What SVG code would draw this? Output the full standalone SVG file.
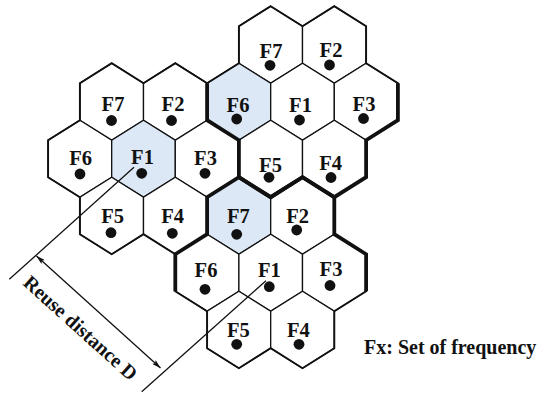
<svg xmlns="http://www.w3.org/2000/svg" width="546" height="395" viewBox="0 0 546 395">
  <style>
    .cell { fill: #ffffff; stroke: #111111; stroke-width: 1.3; stroke-linejoin: miter; }
    .hl { fill: #dce8f6; }
    .lbl { font-family: "Liberation Serif", "Times New Roman", serif; font-weight: bold; font-size: 20.5px; fill: #111111; text-anchor: middle; }
    .dim-lbl { font-family: "Liberation Serif", "Times New Roman", serif; font-weight: bold; font-size: 20px; fill: #111111; text-anchor: middle; }
    .dot { fill: #111111; }
    .outline { fill: none; stroke: #111111; stroke-width: 1.9; stroke-linejoin: miter; }
    .border { fill: none; stroke: #111111; stroke-width: 3.8; stroke-linejoin: miter; }
    .dim { fill: none; stroke: #111111; stroke-width: 1.3; }
    .note { font-family: "Liberation Serif", "Times New Roman", serif; font-weight: bold; font-size: 20px; fill: #111111; }
  </style>
  <defs>
    <!-- pointy-top hexagon centred on the origin -->
    <polygon id="hex" points="0,-38.5 31.8,-18.5 31.8,18.5 0,38.5 -31.8,18.5 -31.8,-18.5"/>
    <marker id="arrow" viewBox="0 0 10 6" refX="10" refY="3" markerWidth="9" markerHeight="5.4" markerUnits="userSpaceOnUse" orient="auto-start-reverse">
      <path d="M0,0 L10,3 L0,6 L2,3 z" fill="#111111"/>
    </marker>
  </defs>

  <!-- cells -->
  <g id="cells">
    <g id="r1-f7"><use href="#hex" x="270.7" y="44.7" class="cell"/><text class="lbl" x="271" y="57.5">F7</text><circle class="dot" cx="270" cy="65.3" r="5.4"/></g>
    <g id="r1-f2"><use href="#hex" x="334.3" y="44.7" class="cell"/><text class="lbl" x="331" y="57">F2</text><circle class="dot" cx="329.5" cy="65" r="5.4"/></g>

    <g id="r2-f7"><use href="#hex" x="111.7" y="101.7" class="cell"/><text class="lbl" x="113" y="110.5">F7</text><circle class="dot" cx="111.5" cy="120.5" r="5.4"/></g>
    <g id="r2-f2"><use href="#hex" x="175.3" y="101.7" class="cell"/><text class="lbl" x="173" y="110.5">F2</text><circle class="dot" cx="171.5" cy="120.5" r="5.4"/></g>
    <g id="r2-f6"><use href="#hex" x="238.9" y="101.7" class="cell hl"/><text class="lbl" x="238" y="111.5">F6</text><circle class="dot" cx="236.7" cy="119" r="5.4"/></g>
    <g id="r2-f1"><use href="#hex" x="302.5" y="101.7" class="cell"/><text class="lbl" x="300.5" y="111.5">F1</text><circle class="dot" cx="299.5" cy="120" r="5.4"/></g>
    <g id="r2-f3"><use href="#hex" x="366.1" y="101.7" class="cell"/><text class="lbl" x="364" y="110.5">F3</text><circle class="dot" cx="363.5" cy="118.5" r="5.4"/></g>

    <g id="r3-f6"><use href="#hex" x="79.9" y="158.7" class="cell"/><text class="lbl" x="80.7" y="165">F6</text><circle class="dot" cx="80" cy="174" r="5.4"/></g>
    <g id="r3-f1"><use href="#hex" x="143.5" y="158.7" class="cell hl"/><text class="lbl" x="142.5" y="163.5">F1</text><circle class="dot" cx="141.7" cy="173.3" r="5.4"/></g>
    <g id="r3-f3"><use href="#hex" x="207.1" y="158.7" class="cell"/><text class="lbl" x="205.5" y="165">F3</text><circle class="dot" cx="205" cy="173.3" r="5.4"/></g>
    <g id="r3-f5"><use href="#hex" x="270.7" y="158.7" class="cell"/><text class="lbl" x="270.5" y="171.5">F5</text><circle class="dot" cx="269" cy="177.3" r="5.4"/></g>
    <g id="r3-f4"><use href="#hex" x="334.3" y="158.7" class="cell"/><text class="lbl" x="330.7" y="170">F4</text><circle class="dot" cx="331" cy="177.5" r="5.4"/></g>

    <g id="r4-f5"><use href="#hex" x="111.7" y="215.7" class="cell"/><text class="lbl" x="112.7" y="223.3">F5</text><circle class="dot" cx="111" cy="232.7" r="5.4"/></g>
    <g id="r4-f4"><use href="#hex" x="175.3" y="215.7" class="cell"/><text class="lbl" x="172.7" y="223.3">F4</text><circle class="dot" cx="172.3" cy="233.3" r="5.4"/></g>
    <g id="r4-f7"><use href="#hex" x="238.9" y="215.7" class="cell hl"/><text class="lbl" x="238.3" y="223.3">F7</text><circle class="dot" cx="236.7" cy="234.3" r="5.4"/></g>
    <g id="r4-f2"><use href="#hex" x="302.5" y="215.7" class="cell"/><text class="lbl" x="297.7" y="222.7">F2</text><circle class="dot" cx="296.7" cy="230" r="5.4"/></g>

    <g id="r5-f6"><use href="#hex" x="207.1" y="272.7" class="cell"/><text class="lbl" x="206" y="276.7">F6</text><circle class="dot" cx="205" cy="289.3" r="5.4"/></g>
    <g id="r5-f1"><use href="#hex" x="270.7" y="272.7" class="cell"/><text class="lbl" x="269.3" y="276.7">F1</text><circle class="dot" cx="269.3" cy="286.7" r="5.4"/></g>
    <g id="r5-f3"><use href="#hex" x="334.3" y="272.7" class="cell"/><text class="lbl" x="331" y="276">F3</text><circle class="dot" cx="330" cy="285.5" r="5.4"/></g>

    <g id="r6-f5"><use href="#hex" x="238.9" y="329.7" class="cell"/><text class="lbl" x="238.3" y="336.7">F5</text><circle class="dot" cx="236.7" cy="344.3" r="5.4"/></g>
    <g id="r6-f4"><use href="#hex" x="302.5" y="329.7" class="cell"/><text class="lbl" x="298.3" y="336.7">F4</text><circle class="dot" cx="299" cy="344.3" r="5.4"/></g>
  </g>

  <!-- outer edge of the whole layout -->
  <path class="outline" d="M270.7,6.2 L302.5,26.2 L334.3,6.2 L366.1,26.2 L366.1,63.2 L397.9,83.2 L397.9,120.2 L366.1,140.2 L366.1,177.2 L334.3,197.2 L334.3,234.2 L366.1,254.2 L366.1,291.2 L334.3,311.2 L334.3,348.2 L302.5,368.2 L270.7,348.2 L238.9,368.2 L207.1,348.2 L207.1,311.2 L175.3,291.2 L175.3,254.2 L143.5,234.2 L111.7,254.2 L79.9,234.2 L79.9,197.2 L48.1,177.2 L48.1,140.2 L79.9,120.2 L79.9,83.2 L111.7,63.2 L143.5,83.2 L175.3,63.2 L207.1,83.2 L238.9,63.2 L238.9,26.2 Z"/>

  <!-- heavy boundaries of the two seven-cell clusters -->
  <g id="cluster-borders">
    <path class="border" d="M207.1,83.2 L207.1,120.2 L238.9,140.2 L238.9,177.2 L270.7,197.2 L302.5,177.2 L334.3,197.2 L366.1,177.2 L366.1,140.2 L397.9,120.2 L397.9,83.2"/>
    <path class="border" d="M175.3,291.2 L175.3,254.2 L207.1,234.2 L207.1,197.2 L238.9,177.2 L270.7,197.2 L302.5,177.2 L334.3,197.2 L334.3,234.2 L366.1,254.2 L366.1,291.2"/>
  </g>

  <!-- reuse distance dimension -->
  <g id="connectors">
    <line class="dim" x1="134" y1="167.3" x2="9.3" y2="279.3"/>
    <line class="dim" x1="266" y1="280.7" x2="141.7" y2="391.7"/>
    <line class="dim" x1="36.5" y1="256" x2="160.5" y2="368" marker-start="url(#arrow)" marker-end="url(#arrow)"/>
  </g>
  <text class="dim-lbl" transform="translate(76,333) rotate(42)">Reuse distance D</text>

  <text class="note" x="364" y="354">Fx: Set of frequency</text>
</svg>
